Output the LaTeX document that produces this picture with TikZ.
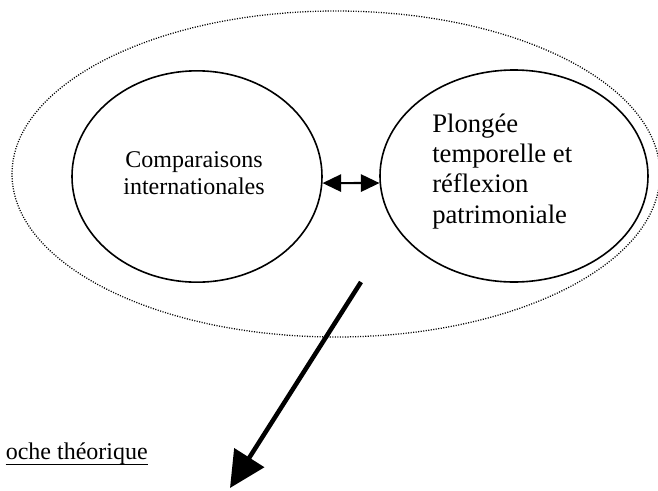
\documentclass[tikz,border=0pt]{standalone}
\usepackage{fontspec}
\setmainfont{Liberation Serif}
\usetikzlibrary{shapes.geometric,arrows.meta}
\begin{document}
\begin{tikzpicture}[x=0.75pt,y=-0.75pt,
  bubble/.style={draw, ellipse, line width=1.2pt, inner sep=0pt},
  outerring/.style={draw, ellipse, line width=0.95pt, dash pattern=on 0.8pt off 1.1pt, inner sep=0pt},
  lefttext/.style={font=\fontsize{18}{20.25}\selectfont, align=center, inner sep=0pt},
  righttext/.style={font=\fontsize{20}{22.7}\selectfont, align=left, inner sep=0pt},
  bottomtext/.style={font=\fontsize{18}{20}\selectfont, inner sep=0pt},
  linkarrow/.style={line width=1.6pt, {Triangle[length=14pt,width=13pt]}-{Triangle[length=14pt,width=13pt]}},
  bigarrow/.style={line width=3.4pt, -{Triangle[length=27pt,width=26pt]}}]
\clip (0,0) rectangle (658,490);
\node[outerring, minimum width=486pt, minimum height=244.5pt] (O) at (336,174) {};
\node[bubble, minimum width=187.5pt, minimum height=158.5pt] (L) at (197,176.5) {};
\node[bubble, minimum width=201pt, minimum height=159pt] (R) at (514,176) {};
\node[lefttext] (Lt) at (194,173.4) {Comparaisons\\internationales};
\node[righttext, anchor=west] (Rt) at (432,171.3) {Plongée\\temporelle et\\réflexion\\patrimoniale};
\draw[linkarrow] (L.-3.8) -- (R.183.6);
\coordinate (s) at (361,282);
\coordinate (t) at (230,488);
\draw[bigarrow] (s) -- (t);
\node[bottomtext, anchor=base east] (T) at (148,459) {oche théorique};
\draw[line width=0.7pt] ([yshift=-4.3pt]T.base west) -- ([yshift=-4.3pt]T.base east);
\end{tikzpicture}
\end{document}
